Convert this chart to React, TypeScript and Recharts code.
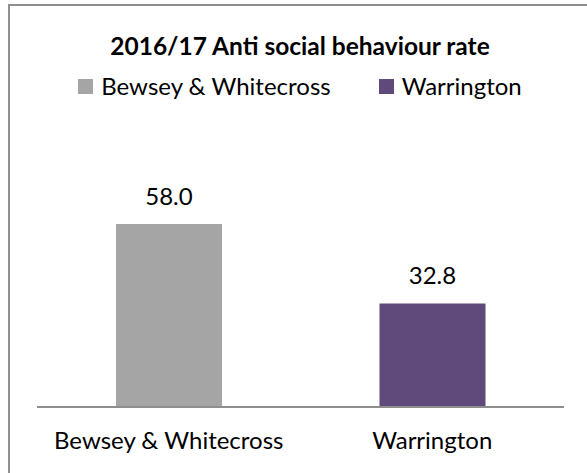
import React from 'react';
import { BarChart, Bar, XAxis, YAxis, Cell, LabelList } from 'recharts';

const categories = ['Bewsey & Whitecross', 'Warrington'];
const rates = [58.0, 32.8];
const barColors = ['#A5A5A5', '#604A7B'];
const chartTitle = '2016/17 Anti social behaviour rate';

const data = categories.map((name, i) => ({ name, rate: rates[i] }));

const FONT = 'Lato, "Open Sans", sans-serif';

export default function App() {
    return (
        <div style={{ position: 'absolute', left: 8, top: 4, width: 579, height: 469, overflow: 'hidden', background: '#fff' }}>
            <div style={{ position: 'absolute', left: 0, top: 0, width: 700, height: 700, borderLeft: '2px solid #8f8f8f', borderTop: '2px solid #8f8f8f' }} />
            <div
                style={{
                    position: 'absolute', left: 0, top: 28, width: 584, textAlign: 'center',
                    fontFamily: FONT, fontWeight: 700, fontSize: 24.5, lineHeight: '28px', color: '#000',
                }}
            >
                {chartTitle}
            </div>
            {/* legend, one entry per category */}
            <div
                style={{
                    position: 'absolute', left: 0, top: 68, width: 584, display: 'flex', justifyContent: 'center',
                    alignItems: 'center', fontFamily: FONT, fontSize: 24, lineHeight: '28px', color: '#000',
                }}
            >
                {categories.map((c, i) => (
                    <div key={c} style={{ display: 'flex', alignItems: 'center', marginRight: i === 0 ? 48 : 0 }}>
                        <span style={{ width: 15, height: 15, background: barColors[i], marginRight: 8, display: 'inline-block' }} />
                        <span>{c}</span>
                    </div>
                ))}
            </div>
            <div style={{ position: 'absolute', left: 0, top: 0 }}>
                <BarChart width={579} height={469} data={data} margin={{ top: 182, right: 23, bottom: 0, left: 29 }}>
                    <YAxis hide domain={[0, 70]} />
                    <XAxis
                        dataKey="name"
                        axisLine={{ stroke: '#8e8e8e', strokeWidth: 2 }}
                        tickLine={false}
                        tickSize={0}
                        tickMargin={25}
                        height={66}
                        tick={{ fill: '#000', fontSize: 24, fontFamily: FONT }}
                    />
                    <Bar dataKey="rate" barSize={106} isAnimationActive={false}>
                        {data.map((d, i) => (
                            <Cell key={d.name} fill={barColors[i]} />
                        ))}
                        <LabelList
                            dataKey="rate"
                            position="top"
                            offset={19}
                            formatter={(v: any) => Number(v).toFixed(1)}
                            style={{ fill: '#000', fontSize: 24, fontFamily: FONT }}
                        />
                    </Bar>
                </BarChart>
            </div>
        </div>
    );
}
